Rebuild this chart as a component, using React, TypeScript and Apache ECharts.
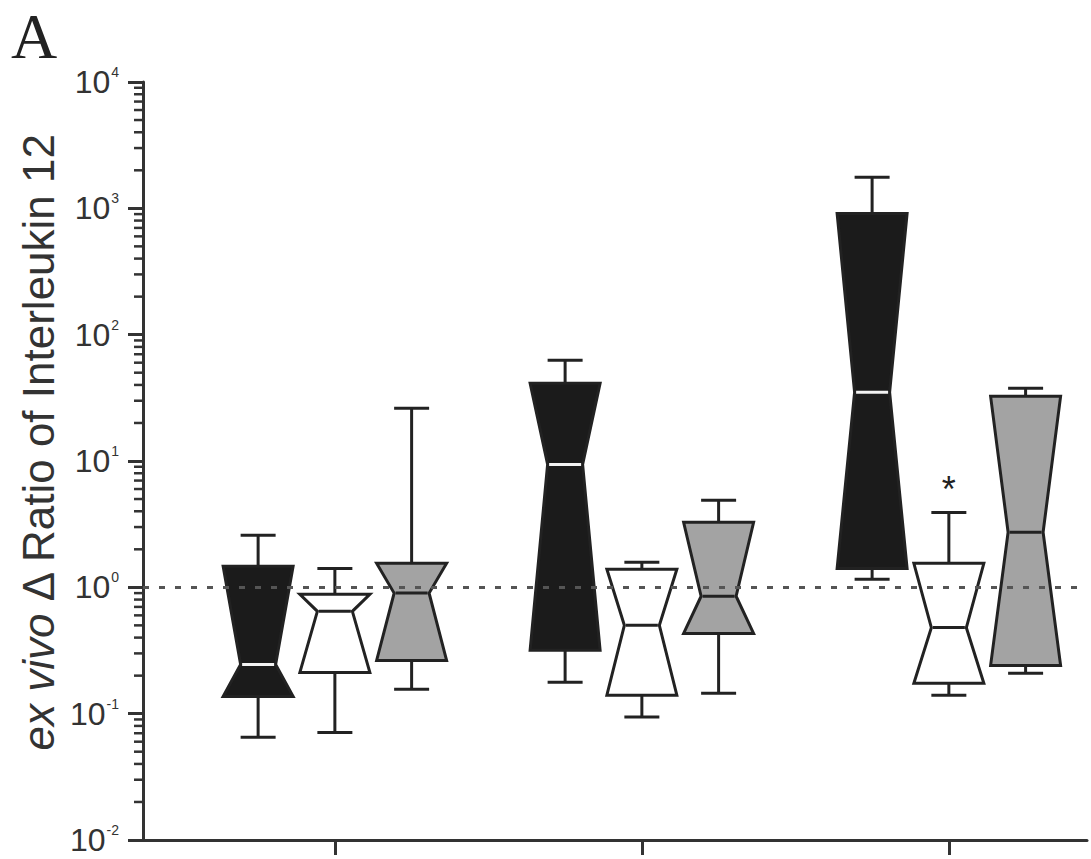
import React, { useEffect, useRef } from 'react';
import * as echarts from 'echarts';

// Group categories (unlabelled in the figure)
const groups = ['Group 1', 'Group 2', 'Group 3'];
// Each box: [whiskerLow, Q1, median, Q3, whiskerHigh]
const blackBoxes = [
  [0.065, 0.137, 0.245, 1.47, 2.58],
  [0.177, 0.317, 9.4, 41.2, 62.6],
  [1.16, 1.41, 35, 912, 1760],
];
const whiteBoxes = [
  [0.071, 0.212, 0.646, 0.88, 1.41],
  [0.094, 0.14, 0.5, 1.39, 1.58],
  [0.14, 0.174, 0.48, 1.55, 3.92],
];
const grayBoxes = [
  [0.156, 0.264, 0.9, 1.55, 26.1],
  [0.145, 0.432, 0.85, 3.27, 4.88],
  [0.209, 0.241, 2.73, 32.5, 37.6],
];
const whiteMarks = ['', '', '*'];
const referenceLine = 1;
const yDecadeExponents = [-2, -1, 0, 1, 2, 3];
const minorMultipliers = [2, 3, 4, 5, 6, 7, 8, 9];

const X_MIN = 0.375;
const X_MAX = 3.45;
const BOX_W = 0.228;
const CAP_W = 0.114;
const OFFSETS = [-0.25, 0, 0.25];
const STROKE = '#222';

const minorTicks: number[] = [];
yDecadeExponents.forEach((e) => minorMultipliers.forEach((m) => minorTicks.push(m * Math.pow(10, e))));

function boxData(boxes: number[][], off: number) {
  return boxes.map((b, i) => [i + 1 + off, ...b]);
}

function makeRender(fill: string, medianColor: string, marks: string[] | null) {
  return (params: any, api: any) => {
    const x = api.value(0);
    const wl = api.value(1), q1 = api.value(2), med = api.value(3), q3 = api.value(4), wh = api.value(5);
    const [xc, yMed] = api.coord([x, med]);
    const yWl = api.coord([x, wl])[1];
    const yQ1 = api.coord([x, q1])[1];
    const yQ3 = api.coord([x, q3])[1];
    const yWh = api.coord([x, wh])[1];
    const hw = api.coord([x + BOX_W / 2, med])[0] - xc;
    const cw = api.coord([x + CAP_W / 2, med])[0] - xc;
    const nw = hw * 0.5;
    const ls = { stroke: STROKE, lineWidth: 3 };
    const children: any[] = [
      { type: 'line', shape: { x1: xc, y1: yQ3, x2: xc, y2: yWh }, style: ls },
      { type: 'line', shape: { x1: xc - cw, y1: yWh, x2: xc + cw, y2: yWh }, style: ls },
      { type: 'line', shape: { x1: xc, y1: yQ1, x2: xc, y2: yWl }, style: ls },
      { type: 'line', shape: { x1: xc - cw, y1: yWl, x2: xc + cw, y2: yWl }, style: ls },
      {
        type: 'polygon',
        shape: {
          points: [
            [xc - hw, yQ3], [xc + hw, yQ3], [xc + nw, yMed],
            [xc + hw, yQ1], [xc - hw, yQ1], [xc - nw, yMed],
          ],
        },
        style: { fill, stroke: STROKE, lineWidth: 3, lineJoin: 'miter' },
      },
      {
        type: 'line',
        shape: { x1: xc - nw + 1.5, y1: yMed, x2: xc + nw - 1.5, y2: yMed },
        style: { stroke: medianColor, lineWidth: 3 },
      },
    ];
    if (marks) {
      const m = marks[params.dataIndex];
      if (m) {
        children.push({
          type: 'text',
          x: xc,
          y: yWh - 23,
          style: {
            text: m, fill: STROKE, fontSize: 36, fontFamily: 'Liberation Sans, Arial, sans-serif',
            align: 'center', verticalAlign: 'middle',
          },
        });
      }
    }
    return { type: 'group', children };
  };
}

export default function App() {
  const ref = useRef<HTMLDivElement>(null);
  useEffect(() => {
    if (!ref.current) return;
    const chart = echarts.init(ref.current, null, { renderer: 'svg' });
    const font = 'Liberation Sans, Arial, sans-serif';
    chart.setOption({
      animation: false,
      backgroundColor: '#fff',
      grid: { left: 143, top: 82, right: 4, bottom: 19, containLabel: false },
      xAxis: {
        type: 'value',
        min: X_MIN,
        max: X_MAX,
        axisLine: { show: true, lineStyle: { color: '#333', width: 3 } },
        axisTick: { show: true, customValues: groups.map((g, i) => i + 1), length: 15, inside: false, lineStyle: { color: '#333', width: 3 } },
        axisLabel: { show: false },
        splitLine: { show: false },
      },
      yAxis: {
        type: 'log',
        logBase: 10,
        min: 0.01,
        max: 10000,
        axisLine: { show: true, lineStyle: { color: '#333', width: 3 } },
        axisTick: { show: true, length: 15, inside: false, lineStyle: { color: '#333', width: 3 } },
        splitLine: { show: false },
        minorTick: { show: false },
        axisLabel: {
          margin: 24,
          formatter: (v: number) => `{b|10}{s|${Math.round(Math.log10(v))}}`,
          rich: {
            b: { fontSize: 32, fontFamily: font, color: '#333', lineHeight: 34 },
            s: { fontSize: 14, fontFamily: font, color: '#333', verticalAlign: 'top', lineHeight: 14, padding: [0, 0, 0, 1] },
          },
        },
      },
      graphic: [
        {
          type: 'text',
          left: 11,
          top: 4,
          style: { text: 'A', fontSize: 64, fontFamily: 'Liberation Serif, DejaVu Serif, serif', fill: '#222' },
        },
        {
          type: 'text',
          x: 38,
          y: 441,
          rotation: Math.PI / 2,
          style: {
            text: '{i|ex vivo} Δ Ratio of Interleukin 12',
            fontSize: 44,
            fontFamily: font,
            fill: '#333',
            align: 'center',
            verticalAlign: 'middle',
            rich: {
              i: { fontStyle: 'italic', fontSize: 44, fontFamily: font, fill: '#333' },
            },
          },
        },
      ],
      series: [
        {
          type: 'custom',
          name: 'minorTicks',
          silent: true,
          data: minorTicks.map((v) => [X_MIN, v]),
          encode: { x: 0, y: 1 },
          renderItem: (params: any, api: any) => {
            const p = api.coord([api.value(0), api.value(1)]);
            return { type: 'line', shape: { x1: p[0] - 9, y1: p[1], x2: p[0], y2: p[1] }, style: { stroke: '#333', lineWidth: 2.5 } };
          },
        },
        {
          type: 'custom', name: 'black', data: boxData(blackBoxes, OFFSETS[0]),
          encode: { x: 0, y: [1, 2, 3, 4, 5] }, renderItem: makeRender('#1b1b1b', '#f2f2f2', null), z: 3,
        },
        {
          type: 'custom', name: 'white', data: boxData(whiteBoxes, OFFSETS[1]),
          encode: { x: 0, y: [1, 2, 3, 4, 5] }, renderItem: makeRender('#ffffff', STROKE, whiteMarks), z: 3,
        },
        {
          type: 'custom', name: 'gray', data: boxData(grayBoxes, OFFSETS[2]),
          encode: { x: 0, y: [1, 2, 3, 4, 5] }, renderItem: makeRender('#a3a3a3', STROKE, null), z: 3,
        },
        {
          type: 'line',
          name: 'ref',
          data: [],
          z: 10,
          markLine: {
            silent: true,
            symbol: ['none', 'none'],
            label: { show: false },
            lineStyle: { type: [6, 10], color: '#555', width: 3 },
            data: [{ yAxis: referenceLine }],
          },
        },
      ],
    });
    return () => chart.dispose();
  }, []);
  return <div ref={ref} style={{ position: 'fixed', left: 0, top: 0, width: 1091, height: 859, background: '#fff' }} />;
}
